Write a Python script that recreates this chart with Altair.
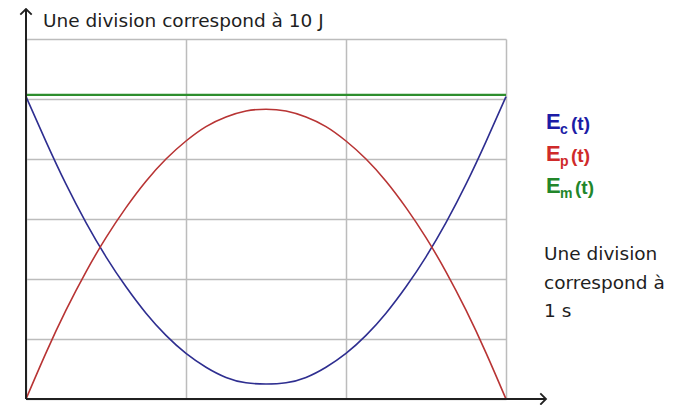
import altair as alt
import pandas as pd

# ---- data ----
t_s = [0, 0.125, 0.25, 0.375, 0.5, 0.625, 0.75, 0.875, 1.0, 1.125, 1.25, 1.375, 1.5,
       1.625, 1.75, 1.875, 2.0, 2.125, 2.25, 2.375, 2.5, 2.625, 2.75, 2.875, 3.0]
ep_J = [0, 7.7, 14.8, 21.2, 26.9, 31.9, 36.3, 40.0, 43.0, 45.4, 47.0, 48.0, 48.3,
        48.0, 47.0, 45.4, 43.0, 40.0, 36.3, 31.9, 26.9, 21.2, 14.8, 7.7, 0]
ec_J = [50.4, 42.9, 35.8, 29.4, 23.7, 18.7, 14.3, 10.6, 7.6, 5.3, 3.6, 2.7, 2.5,
        2.7, 3.6, 5.3, 7.6, 10.6, 14.3, 18.7, 23.7, 29.4, 35.8, 42.9, 50.4]
em_t = [0, 3]
em_J = [50.7, 50.7]

x_grid = [0, 1, 2, 3]
y_grid = [0, 10, 20, 30, 40, 50, 60]
x_axis_end = 3.25
y_axis_end = 65

top_label = "Une division correspond à 10 J"
side_lines = ["Une division", "correspond à", "1 s"]
legend_subs = ["c", "p", "m"]
legend_colors = ["#1c1ca6", "#cf2a2a", "#22862a"]
curve_colors = {"Ec": "#2e2e90", "Ep": "#b83434", "Em": "#2e8e2e"}

# ---- chart ----
W, H = 480, 360
xs = alt.Scale(domain=[0, 3], nice=False, zero=False)
ys = alt.Scale(domain=[0, 60], nice=False, zero=False)

curves = pd.DataFrame({"t": t_s, "Ep": ep_J, "Ec": ec_J})

grid_layer = alt.Chart(curves).mark_line(
    color=curve_colors["Ec"], strokeWidth=1.6, interpolate="natural"
).encode(
    x=alt.X("t:Q", scale=xs, axis=alt.Axis(values=x_grid, grid=True, labels=False, ticks=False,
                                          domain=False, title=None, gridColor="#bcbcbc", gridWidth=1.5)),
    y=alt.Y("Ec:Q", scale=ys, axis=alt.Axis(values=y_grid, grid=True, labels=False, ticks=False,
                                           domain=False, title=None, gridColor="#bcbcbc", gridWidth=1.5)),
)

ep_layer = alt.Chart(curves).mark_line(
    color=curve_colors["Ep"], strokeWidth=1.6, interpolate="natural"
).encode(x=alt.X("t:Q", scale=xs), y=alt.Y("Ep:Q", scale=ys))

em_layer = alt.Chart(pd.DataFrame({"t": em_t, "E": em_J})).mark_line(
    color=curve_colors["Em"], strokeWidth=2.2
).encode(x=alt.X("t:Q", scale=xs), y=alt.Y("E:Q", scale=ys))

# axes with arrows
xaxis_df = pd.DataFrame({"t0": [0], "t1": [x_axis_end], "e": [0]})
yaxis_df = pd.DataFrame({"t": [0], "e0": [0], "e1": [y_axis_end]})
x_rule = alt.Chart(xaxis_df).mark_rule(color="#202020", strokeWidth=2).encode(
    x=alt.X("t0:Q", scale=xs), x2="t1:Q", y=alt.Y("e:Q", scale=ys))
y_rule = alt.Chart(yaxis_df).mark_rule(color="#202020", strokeWidth=2).encode(
    x=alt.X("t:Q", scale=xs), y=alt.Y("e0:Q", scale=ys), y2="e1:Q")
x_head = alt.Chart(pd.DataFrame({"t": [x_axis_end], "e": [0]})).mark_point(
    shape="M-1,-1L0,0L-1,1", filled=False, color="#202020", strokeWidth=1.8, size=130, opacity=1
).encode(x=alt.X("t:Q", scale=xs), y=alt.Y("e:Q", scale=ys))
y_head = alt.Chart(pd.DataFrame({"t": [0], "e": [y_axis_end]})).mark_point(
    shape="M-1,1L0,0L1,1", filled=False, color="#202020", strokeWidth=1.8, size=130, opacity=1
).encode(x=alt.X("t:Q", scale=xs), y=alt.Y("e:Q", scale=ys))

one = pd.DataFrame({"k": [0]})
texts = []
texts.append(alt.Chart(one).mark_text(
    text=top_label, font="DejaVu Sans", fontSize=18.5, color="#1e1e1e",
    align="left", baseline="alphabetic"
).encode(x=alt.value(17), y=alt.value(-12)))

for i, line in enumerate(side_lines):
    texts.append(alt.Chart(one).mark_text(
        text=line, font="DejaVu Sans", fontSize=18.5, color="#1e1e1e",
        align="left", baseline="alphabetic"
    ).encode(x=alt.value(518), y=alt.value(221 + i * 28.5)))

paren_x = {"c": 545, "p": 545, "m": 549}
for i, (sub, col) in enumerate(zip(legend_subs, legend_colors)):
    base_y = 90 + i * 32
    texts.append(alt.Chart(one).mark_text(
        text="E", font="Liberation Sans", fontWeight="bold", fontSize=22, color=col,
        align="left", baseline="alphabetic"
    ).encode(x=alt.value(520), y=alt.value(base_y)))
    texts.append(alt.Chart(one).mark_text(
        text=sub, font="Liberation Sans", fontWeight="bold", fontSize=14, color=col,
        align="left", baseline="alphabetic"
    ).encode(x=alt.value(534), y=alt.value(base_y + 5)))
    texts.append(alt.Chart(one).mark_text(
        text="(t)", font="Liberation Sans", fontWeight="bold", fontSize=19, color=col,
        align="left", baseline="alphabetic"
    ).encode(x=alt.value(paren_x[sub]), y=alt.value(base_y + 1)))

chart = alt.layer(
    grid_layer, ep_layer, em_layer, x_rule, y_rule, x_head, y_head, *texts
).properties(
    width=W, height=H,
    autosize=alt.AutoSizeParams(type="none"),
    padding={"left": 18, "top": 31, "right": 178, "bottom": 6},
    background="white",
).configure_view(stroke=None)

chart.save("out.html", embed_options={"renderer": "svg", "actions": False})
